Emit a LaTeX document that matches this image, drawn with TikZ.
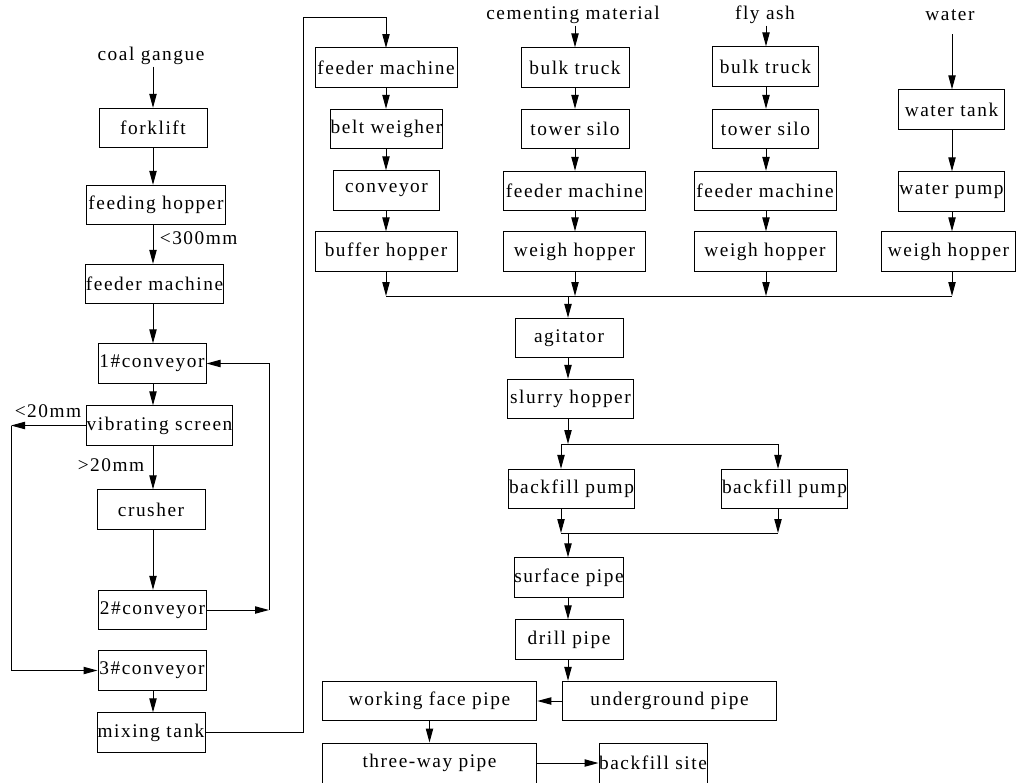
\documentclass[tikz,border=0pt]{standalone}
\usepackage{fontspec}
\setmainfont[LetterSpace=8]{Liberation Serif}
\usetikzlibrary{arrows.meta}

\begin{document}
\begin{tikzpicture}[x=0.75pt, y=-0.75pt, ->, >={Triangle[length=10.5pt,width=5.5pt]}, line width=0.75pt,
    every node/.style={font=\fontsize{14.5}{16}\selectfont},
    box/.style={rectangle, draw, minimum width=81pt, minimum height=29.5pt, inner sep=0pt},
    lbl/.style={inner sep=1pt}]

    \useasboundingbox (0,0) rectangle (1016,782);
    \clip (0,0) rectangle (1016,782);

    % Coal gangue line.
    \coordinate (lx) at (153,0);
    \node[lbl] (gangue) at (151,56) {coal gangue};
    \node[box] (forklift) at (153,128) {forklift};
    \node[box, minimum width=104pt] (hopper) at (156,205) {feeding hopper};
    \node[box, minimum width=104pt] (feeder-L) at (154.5,284) {feeder machine};
    \node[box] (conv-1) at (152,363.5) {1\#conveyor};
    \node[box, minimum width=110pt] (screen) at (159.5,425.5) {vibrating screen};
    \node[box] (crusher) at (151,509.5) {crusher};
    \node[box] (conv-2) at (152.5,610) {2\#conveyor};
    \node[box] (conv-3) at (152,670.5) {3\#conveyor};
    \node[box] (mix) at (151,732.5) {mixing tank};

    \foreach \a/\b in {gangue/forklift, forklift/hopper, hopper/feeder-L, feeder-L/conv-1,
                       conv-1/screen, screen/crusher, crusher/conv-2, conv-3/mix}
        \draw (\a.south -| lx) -- (\b.north -| lx);

    \node[lbl, anchor=west] (l-300) at (158,238) {<300mm};
    \node[lbl] (l-20b) at (111,465) {>20mm};
    \node[lbl] (l-20a) at (48,411) {<20mm};

    % Screen and crusher loops.
    \coordinate (fine-turn) at (11,425.5);
    \coordinate (back-turn) at (269,610);
    \draw (screen.west) -- (fine-turn);
    \draw (fine-turn) |- (conv-3.west);
    \draw (conv-2.east) -- (back-turn);
    \draw (back-turn) |- (conv-1.east);

    % Gangue to feeder.
    \coordinate (lift) at (303,17);
    \draw (mix.east) -| (lift) -| (386,48);

    % First material line.
    \coordinate (c1) at (386,0);
    \node[box, minimum width=106.5pt] (feeder-1) at (386,67.5) {feeder machine};
    \node[box, minimum width=80pt] (belt) at (386.5,129) {belt weigher};
    \node[box, minimum width=80pt] (conv-4) at (386.5,190.5) {conveyor};
    \node[box, minimum width=106.5pt] (buffer) at (386,251.5) {buffer hopper};

    % Cementing material line.
    \coordinate (c2) at (575,0);
    \node[lbl] (cement) at (573,15) {cementing material};
    \node[box] (truck-2) at (575,67.5) {bulk truck};
    \node[box] (silo-2) at (575,129) {tower silo};
    \node[box, minimum width=107pt] (feeder-2) at (574.5,191) {feeder machine};
    \node[box, minimum width=107pt] (weigh-2) at (574.5,251.5) {weigh hopper};

    % Fly ash line.
    \coordinate (c3) at (766,0);
    \node[lbl] (ash) at (765,15) {fly ash};
    \node[box, minimum width=80pt] (truck-3) at (765.5,66.5) {bulk truck};
    \node[box, minimum width=80pt] (silo-3) at (765.5,129) {tower silo};
    \node[box, minimum width=106.5pt] (feeder-3) at (765,191) {feeder machine};
    \node[box, minimum width=106.5pt] (weigh-3) at (765,251.5) {weigh hopper};

    % Water line.
    \coordinate (c4) at (952,0);
    \node[lbl] (water) at (950,15) {water};
    \node[box, minimum width=80pt] (tank) at (951.5,109.5) {water tank};
    \node[box, minimum width=80pt] (pump-W) at (951.5,191.5) {water pump};
    \node[box, minimum width=101pt] (weigh-4) at (948.5,251.5) {weigh hopper};

    \foreach \c/\a/\b in {c1/feeder-1/belt, c1/belt/conv-4, c1/conv-4/buffer,
                          c2/cement/truck-2, c2/truck-2/silo-2, c2/silo-2/feeder-2, c2/feeder-2/weigh-2,
                          c3/ash/truck-3, c3/truck-3/silo-3, c3/silo-3/feeder-3, c3/feeder-3/weigh-3,
                          c4/tank/pump-W, c4/pump-W/weigh-4}
        \draw (\a.south -| \c) -- (\b.north -| \c);
    \draw[shorten <=9pt] (water.south -| c4) -- (tank.north -| c4);

    % Collecting line.
    \coordinate (bus) at (0,296);
    \foreach \c/\a in {c1/buffer, c2/weigh-2, c3/weigh-3, c4/weigh-4}
        \draw (\a.south -| \c) -- (\c |- bus);
    \draw[-] (c1 |- bus) -- (c4 |- bus);

    % Mixing and pumping.
    \coordinate (mx) at (568,0);
    \coordinate (p1) at (561,0);
    \coordinate (p2) at (778,0);
    \coordinate (split) at (568,444);
    \coordinate (merge) at (568,533);
    \node[box] (agitator) at (569,338) {agitator};
    \node[box, minimum width=94pt] (slurry) at (570.5,399) {slurry hopper};
    \node[box, minimum width=95pt] (pump-1) at (571.5,489) {backfill pump};
    \node[box, minimum width=95pt] (pump-2) at (784.5,489) {backfill pump};
    \draw (bus -| mx) -- (agitator.north -| mx);
    \draw (agitator.south -| mx) -- (slurry.north -| mx);
    \draw (slurry.south -| mx) -- (split);
    \draw[-] (split -| p1) -- (split -| p2);
    \foreach \p/\n in {p1/pump-1, p2/pump-2} {
        \draw (split -| \p) -- (\n.north -| \p);
        \draw (\n.south -| \p) -- (merge -| \p);
    }
    \draw[-] (merge -| p1) -- (merge -| p2);

    % Pipes.
    \node[box] (surface) at (569,577.5) {surface pipe};
    \node[box] (drill) at (569,639.5) {drill pipe};
    \node[box, minimum width=161pt] (under) at (669.5,701) {underground pipe};
    \node[box, minimum width=161pt] (face) at (429.5,701) {working face pipe};
    \node[box, minimum width=161pt, minimum height=30pt] (three) at (429.5,763) {three-way pipe};
    \node[box, minimum height=30pt] (site) at (653,763) {backfill site};
    \draw (merge) -- (surface.north -| mx);
    \draw (surface.south -| mx) -- (drill.north -| mx);
    \draw (drill.south -| mx) -- (under.north -| mx);
    \draw (under.west) -- (face.east);
    \draw (face.south) -- (three.north);
    \draw (three.east) -- (site.west);

\end{tikzpicture}
\end{document}
